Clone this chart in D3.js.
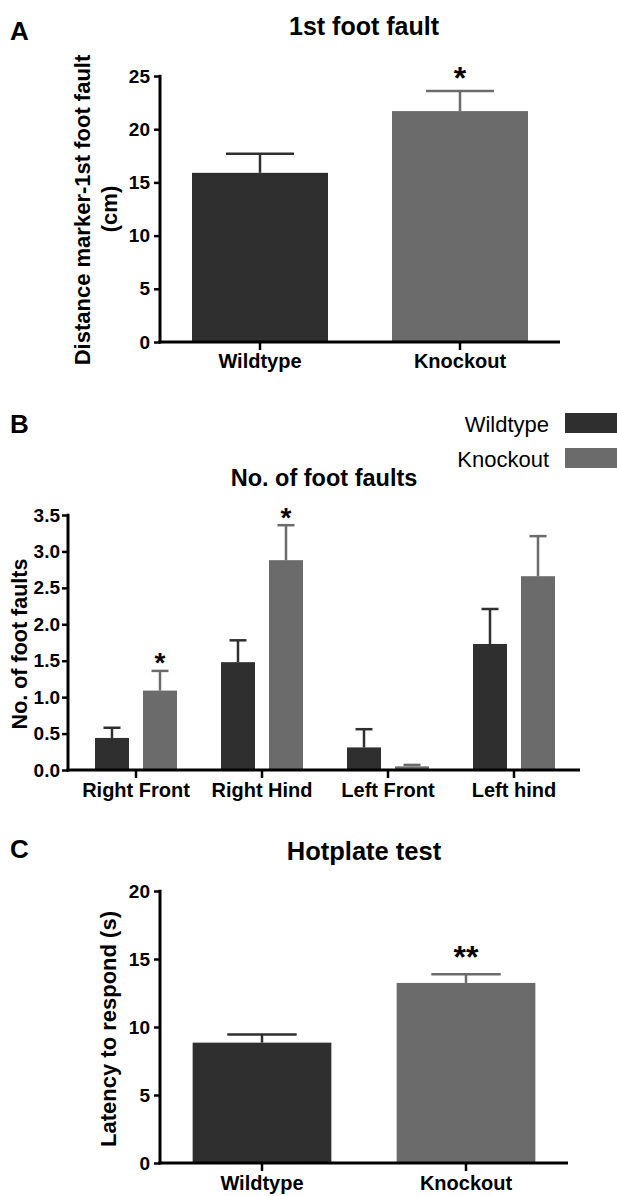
<!DOCTYPE html>
<html>
<head>
<meta charset="utf-8">
<script src="https://cdnjs.cloudflare.com/ajax/libs/d3/7.8.5/d3.min.js"></script>
<style>
  body { margin: 0; background: #fff; }
  svg { display: block; font-family: "Liberation Sans", Arial, Helvetica, sans-serif; }
</style>
</head>
<body>
<svg id="figure" width="617" height="1196"></svg>
<script>
// Panel A - 1st foot fault
const groupsA = ["Wildtype", "Knockout"];
const meanA = [15.9, 21.7];
const semA = [1.8, 1.9];
const starsA = ["", "*"];
const ticksA = [0, 5, 10, 15, 20, 25];

// Panel B - No. of foot faults
const pawsB = ["Right Front", "Right Hind", "Left Front", "Left hind"];
const seriesB = ["Wildtype", "Knockout"];
const wildtypeB = [0.44, 1.48, 0.31, 1.73];
const wildtypeSemB = [0.14, 0.30, 0.25, 0.48];
const knockoutB = [1.09, 2.88, 0.05, 2.66];
const knockoutSemB = [0.27, 0.48, 0.02, 0.55];
const knockoutStarsB = ["*", "*", "", ""];
const ticksB = [0, 0.5, 1, 1.5, 2, 2.5, 3, 3.5];

// Panel C - Hotplate test
const groupsC = ["Wildtype", "Knockout"];
const meanC = [8.85, 13.24];
const semC = [0.59, 0.63];
const starsC = ["", "**"];
const ticksC = [0, 5, 10, 15, 20];

const svg = d3.select("#figure");

const color = d3.scaleOrdinal()
    .domain(["Wildtype", "Knockout"])
    .range(["#2f2f2f", "#6b6b6b"]);

// draws axis lines + ticks the Prism way (thick lines, bold labels)
function drawAxes(x, y, o) {
    const base = y(0);
    const yTop = y(o.ticks[o.ticks.length - 1]);

    const ya = svg.append("g")
        .attr("transform", `translate(${o.left},0)`)
        .call(d3.axisLeft(y).tickValues(o.ticks).tickFormat(o.fmt)
            .tickSize(6).tickPadding(o.yPad).tickSizeOuter(0));
    ya.select(".domain").remove();
    ya.selectAll("line").attr("stroke", "#000").attr("stroke-width", 2.5);
    ya.selectAll("text")
        .attr("fill", "#000")
        .style("font-size", o.tickFont + "px")
        .style("font-weight", "bold");

    const xa = svg.append("g")
        .attr("transform", `translate(0,${base})`)
        .call(d3.axisBottom(x).tickSize(8).tickPadding(o.xPad).tickSizeOuter(0));
    xa.select(".domain").remove();
    xa.selectAll("line").attr("stroke", "#000").attr("stroke-width", 2.5);
    xa.selectAll("text")
        .attr("fill", "#000")
        .style("font-size", "20px")
        .style("font-weight", "bold");

    svg.append("line")
        .attr("x1", o.left).attr("x2", o.left)
        .attr("y1", yTop - 1.25).attr("y2", base + 1.5)
        .attr("stroke", "#000").attr("stroke-width", 3);
    svg.append("line")
        .attr("x1", o.left - 1.5).attr("x2", o.right)
        .attr("y1", base).attr("y2", base)
        .attr("stroke", "#000").attr("stroke-width", 3);
}

function barWithError(cx, bw, y, m, e, fill, star, starGap, starSize) {
    svg.append("rect")
        .attr("x", cx - bw / 2)
        .attr("y", y(m))
        .attr("width", bw)
        .attr("height", y(0) - y(m))
        .attr("fill", fill);
    svg.append("line")
        .attr("x1", cx).attr("x2", cx)
        .attr("y1", y(m)).attr("y2", y(m + e))
        .attr("stroke", fill).attr("stroke-width", 2.5);
    svg.append("line")
        .attr("x1", cx - bw / 4).attr("x2", cx + bw / 4)
        .attr("y1", y(m + e)).attr("y2", y(m + e))
        .attr("stroke", fill).attr("stroke-width", 2.5);
    if (star) {
        svg.append("text")
            .attr("x", cx)
            .attr("y", y(m + e) - starGap + 0.55 * starSize)
            .attr("text-anchor", "middle")
            .style("font-size", starSize + "px")
            .style("font-weight", "bold")
            .text(star);
    }
}

function title(txt, x, y, size) {
    svg.append("text")
        .attr("x", x).attr("y", y)
        .attr("text-anchor", "middle")
        .style("font-size", size + "px")
        .style("font-weight", "bold")
        .text(txt);
}

function yLabel(txt, x, y, size) {
    svg.append("text")
        .attr("transform", `translate(${x},${y}) rotate(-90)`)
        .attr("text-anchor", "middle")
        .attr("dy", "0.35em")
        .style("font-size", size + "px")
        .style("font-weight", "bold")
        .text(txt);
}

function panelLetter(txt, y) {
    svg.append("text")
        .attr("x", 10).attr("y", y)
        .style("font-size", "26px")
        .style("font-weight", "bold")
        .text(txt);
}

// ---------- Panel A ----------
const xA = d3.scaleBand().domain(groupsA).range([160, 560]);
const yA = d3.scaleLinear().domain([0, 25]).range([342, 76]);

panelLetter("A", 40);
title("1st foot fault", 364, 35, 25);
yLabel("Distance marker-1st foot fault", 82, 210, 22);
yLabel("(cm)", 109, 209, 22);

groupsA.forEach((g, i) => {
    barWithError(xA(g) + xA.bandwidth() / 2, xA.bandwidth() * 0.68, yA,
        meanA[i], semA[i], color(g), starsA[i], 19, 32);
});
drawAxes(xA, yA, { left: 160, right: 560, ticks: ticksA, fmt: d3.format("d"), yPad: 4, xPad: 4, tickFont: 19 });

// ---------- Panel B ----------
const x0B = d3.scaleBand().domain(pawsB).range([73, 577]);
const x1B = d3.scaleBand().domain(seriesB).range([-41, 41]).paddingInner(0.292);
const yB = d3.scaleLinear().domain([0, 3.5]).range([770, 515]);

panelLetter("B", 433);
title("No. of foot faults", 324, 486, 23.5);
yLabel("No. of foot faults", 19, 644, 21.5);

pawsB.forEach((p, i) => {
    const mid = x0B(p) + x0B.bandwidth() / 2;
    const rows = [
        { s: "Wildtype", m: wildtypeB[i], e: wildtypeSemB[i], star: "" },
        { s: "Knockout", m: knockoutB[i], e: knockoutSemB[i], star: knockoutStarsB[i] }
    ];
    rows.forEach(r => {
        barWithError(mid + x1B(r.s) + x1B.bandwidth() / 2, x1B.bandwidth(), yB,
            r.m, r.e, color(r.s), r.star, 14, 28);
    });
});
drawAxes(x0B, yB, { left: 68, right: 580, ticks: ticksB, fmt: d3.format(".1f"), yPad: 2, xPad: 5, tickFont: 19 });

// legend (runs off the right edge like the original)
const legend = svg.append("g");
seriesB.forEach((s, i) => {
    legend.append("text")
        .attr("x", 549)
        .attr("y", 432 + i * 35)
        .attr("text-anchor", "end")
        .style("font-size", "22px")
        .text(s);
    legend.append("rect")
        .attr("x", 565)
        .attr("y", 413 + i * 35)
        .attr("width", 80)
        .attr("height", 20)
        .attr("fill", color(s));
});

// ---------- Panel C ----------
const xC = d3.scaleBand().domain(groupsC).range([160, 568]);
const yC = d3.scaleLinear().domain([0, 20]).range([1163, 891]);

panelLetter("C", 858);
title("Hotplate test", 364, 860, 25.5);
yLabel("Latency to respond (s)", 108, 1029, 22);

groupsC.forEach((g, i) => {
    barWithError(xC(g) + xC.bandwidth() / 2, xC.bandwidth() * 0.68, yC,
        meanC[i], semC[i], color(g), starsC[i], 24, 32);
});
drawAxes(xC, yC, { left: 160, right: 568, ticks: ticksC, fmt: d3.format("d"), yPad: 4, xPad: 5, tickFont: 19 });
</script>
</body>
</html>
